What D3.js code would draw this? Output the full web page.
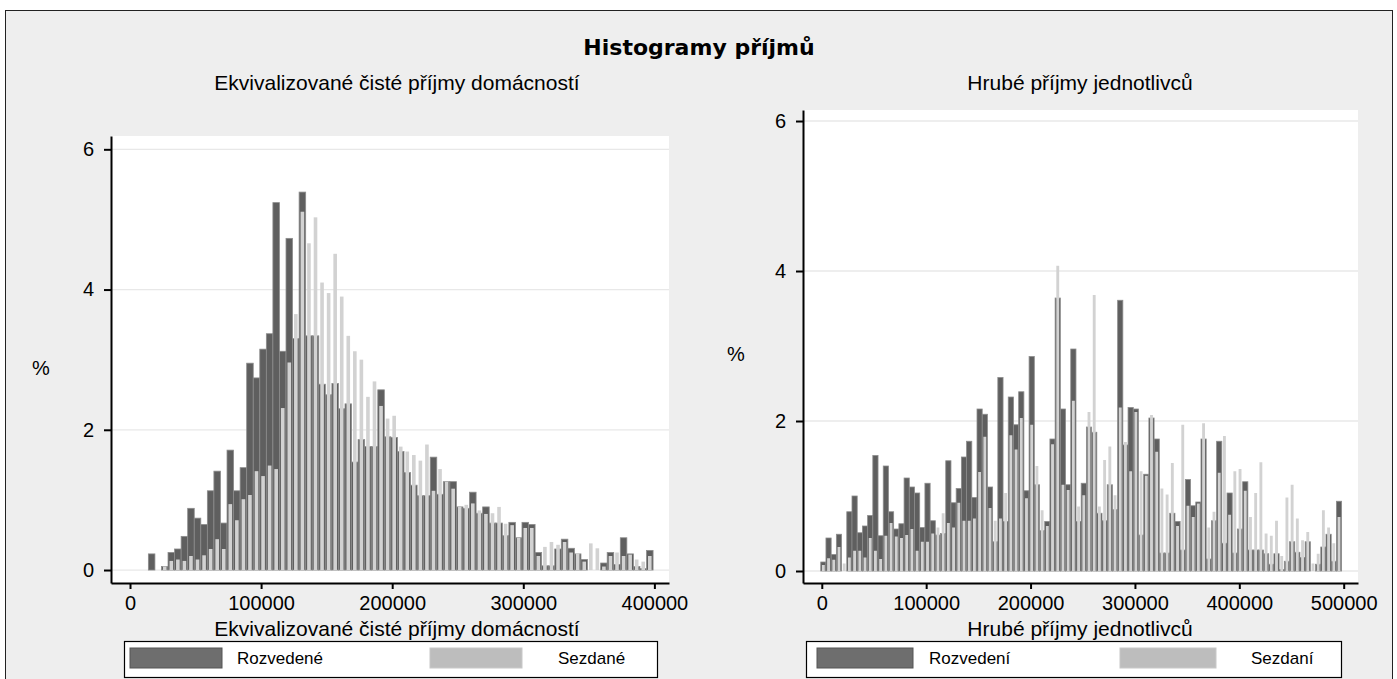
<!DOCTYPE html>
<html><head><meta charset="utf-8">
<script src="https://cdn.jsdelivr.net/npm/d3@7"></script>
<style>
body{margin:0;background:#fff}
svg{display:block}
text{font-family:"Liberation Sans",Arial,sans-serif;fill:#000}
</style>
</head><body>
<svg id="chart" width="1397" height="679"></svg>
<script>
// ---------------- data ----------------
const chartTitle = "Histogramy příjmů";
const yTicks = [0, 2, 4, 6];
const yLabel = "%";

const leftTitle = "Ekvivalizované čisté příjmy domácností";
const leftXTicks = [0, 100000, 200000, 300000, 400000];
const leftBinStart = 14000;
const leftBinWidth = 5000;
const leftRozvedene = [0.23,0,0.05,0.25,0.30,0.48,0.88,0.74,0.65,1.13,1.41,0.67,1.71,1.13,1.46,2.95,2.74,3.15,3.37,5.24,3.12,4.73,3.3,5.39,3.34,3.34,2.65,2.5,2.66,2.3,2.37,1.54,1.86,1.76,1.76,2.57,1.9,1.89,1.69,1.39,1.21,1.06,1.06,1.61,1.08,1.26,1.26,0.90,0.88,1.11,0.81,0.90,0.67,0.67,0.49,0.68,0.46,0.68,0.65,0.25,0.06,0.06,0.3,0.44,0.31,0.23,0.15,0,0,0.10,0.25,0.08,0.46,0.23,0.05,0.02,0.28];
const leftSezdane = [0,0,0.05,0.13,0.15,0.13,0.20,0.15,0.21,0.30,0.44,0.30,0.94,0.71,1.01,1.07,1.41,1.34,1.49,1.44,2.31,2.96,3.65,5.11,4.66,5.03,4.10,3.95,4.51,3.90,3.34,3.12,3.00,2.47,2.69,2.34,2.16,2.20,1.76,1.69,1.64,1.56,1.79,1.13,1.44,1.26,1.16,0.90,0.93,0.95,0.85,0.8,0.81,0.90,0.66,0.64,0.46,0.6,0.6,0.2,0.33,0.40,0.36,0.4,0.25,0.24,0.12,0.38,0.31,0.05,0.2,0.25,0.2,0.22,0.15,0.12,0.2];
const leftLegend = ["Rozvedené", "Sezdané"];

const rightTitle = "Hrubé příjmy jednotlivců";
const rightXTicks = [0, 100000, 200000, 300000, 400000, 500000];
const rightBinStart = -1000;
const rightBinWidth = 4990;
const rightRozvedeni = [0.12,0.44,0.22,0.49,0,0.79,1.00,0.51,0.60,0.74,1.54,0.47,1.40,0.79,0.56,0.63,1.24,1.12,1.04,0.58,1.17,0.67,0.48,0.5,1.47,0.91,1.10,1.52,1.73,0.98,2.16,2.09,1.12,0.39,2.58,0.66,2.32,1.95,2.39,1.07,2.86,1.15,0.54,0.66,1.76,3.64,2.16,1.15,2.96,0.66,1.17,1.92,1.85,0.77,0.67,1.15,0.82,3.61,1.68,2.18,2.16,0.48,1.29,2.04,1.76,0.24,0.24,0.77,0.66,0.28,1.22,0.87,0.92,1.76,0.16,0.67,1.73,0.37,1.04,0.24,0.56,1.19,0.28,0.28,0.28,0.23,0.09,0.23,0.02,0.13,0.39,0.25,0.18,0.39,0,0.09,0.32,0.49,0.13,0.93];
const rightSezdani = [0.08,0.17,0.15,0.32,0.10,0.18,0.27,0.27,0.18,0.44,0.27,0.16,0.47,0.64,0.46,0.44,0.48,0.56,0.27,0.39,0.39,0.5,0.58,0.77,0.64,0.58,0.91,0.67,0.67,0.70,1.32,1.79,0.84,0.67,0.70,1.04,1.81,1.62,2.04,0.97,1.95,1.40,0.81,0.6,1.69,4.07,1.15,1.08,2.27,0.86,1.01,2.12,3.68,0.86,1.48,1.66,1.01,2.18,1.72,1.33,2.12,1.33,1.27,2.08,1.59,1.10,1.02,1.44,0.6,1.95,0.87,0.72,0.9,1.97,0.58,0.79,1.31,1.80,0.75,1.33,1.36,1.07,0.72,1.04,1.45,0.5,0.47,0.67,0.2,0.98,1.15,0.70,0.41,0.52,0.1,0.23,0.81,0.58,0.37,0.72];
const rightLegend = ["Rozvedení", "Sezdaní"];

// ---------------- drawing ----------------
const svg = d3.select("#chart");
const DARK = "#5f5f5f", DARK_EDGE = "#8c8c8c", LIGHT = "#d2d2d2";

svg.append("rect").attr("x", 5.5).attr("y", 10.5).attr("width", 1387).attr("height", 700)
  .attr("fill", "#eeeeee").attr("stroke", "#222").attr("stroke-width", 1);

svg.append("text").attr("x", 699).attr("y", 55).attr("text-anchor", "middle")
  .style("font-family", "'DejaVu Sans',sans-serif").style("font-weight", "bold").style("font-size", "22px")
  .text(chartTitle);

function drawPanel(p) {
  const x = d3.scaleLinear().domain(p.xDomain).range([p.left, p.right]);
  const y = d3.scaleLinear().domain(p.yDomain).range([p.bottom, p.top]);
  const g = svg.append("g");

  g.append("text").attr("x", p.cx).attr("y", 90).attr("text-anchor", "middle")
    .style("font-size", "21px").text(p.title);

  g.append("rect").attr("x", p.left).attr("y", p.top)
    .attr("width", p.right - p.left).attr("height", p.bottom - p.top).attr("fill", "#fff");

  g.append("g").selectAll("line").data(yTicks).join("line")
    .attr("x1", p.left).attr("x2", p.right)
    .attr("y1", d => y(d)).attr("y2", d => y(d))
    .attr("stroke", "#e8e8e8").attr("stroke-width", 1.3);

  const bins = p.dark.map((v, i) => ({
    x0: p.binStart + i * p.binWidth,
    x1: p.binStart + (i + 1) * p.binWidth,
    d: v, l: p.light[i]
  }));

  g.append("g").selectAll("rect").data(bins.filter(b => b.d > 0)).join("rect")
    .attr("x", b => x(b.x0)).attr("width", b => x(b.x1) - x(b.x0))
    .attr("y", b => y(b.d)).attr("height", b => y(0) - y(b.d))
    .attr("fill", DARK).attr("stroke", DARK_EDGE).attr("stroke-width", 0.8);

  const lw = 0.55;
  g.append("g").selectAll("rect").data(bins.filter(b => b.l > 0)).join("rect")
    .attr("x", b => x(b.x0 + (1 - lw) / 2 * p.binWidth))
    .attr("width", b => x(b.x0 + lw * p.binWidth) - x(b.x0))
    .attr("y", b => y(b.l)).attr("height", b => y(0) - y(b.l))
    .attr("fill", LIGHT);

  const ya = g.append("g").attr("transform", `translate(${p.left},0)`)
    .call(d3.axisLeft(y).tickValues(yTicks).tickSize(7).tickSizeOuter(0).tickPadding(10).tickFormat(d3.format("d")));
  const xa = g.append("g").attr("transform", `translate(0,${p.bottom})`)
    .call(d3.axisBottom(x).tickValues(p.xTicks).tickSize(6).tickSizeOuter(0).tickPadding(7).tickFormat(d3.format("d")));
  [ya, xa].forEach(a => {
    a.select(".domain").attr("stroke", "#000").attr("stroke-width", 2);
    a.selectAll(".tick line").attr("stroke", "#000").attr("stroke-width", 2);
    a.selectAll(".tick text").style("font-size", "20px").style("font-family", "'Liberation Sans',Arial,sans-serif").attr("fill", "#000");
  });

  g.append("text").attr("x", p.pctX).attr("y", p.pctY).attr("text-anchor", "middle")
    .attr("dominant-baseline", "middle").style("font-size", "20px").text(yLabel);

  g.append("text").attr("x", p.cx).attr("y", 636).attr("text-anchor", "middle")
    .style("font-size", "21px").text(p.title);

  // legend
  const L = p.legend;
  g.append("rect").attr("x", L.x0 + 0.5).attr("y", 641.5).attr("width", L.x1 - L.x0).attr("height", 36)
    .attr("fill", "#fff").attr("stroke", "#000").attr("stroke-width", 1.2);
  const items = [
    {label: p.labels[0], fill: "#6e6e6e", stroke: "#555", sx: L.s1, tx: L.t1},
    {label: p.labels[1], fill: "#bdbdbd", stroke: "#c8c8c8", sx: L.s2, tx: L.t2}
  ];
  items.forEach(it => {
    g.append("rect").attr("x", it.sx).attr("y", 648).attr("width", L.sw).attr("height", 20)
      .attr("fill", it.fill).attr("stroke", it.stroke).attr("stroke-width", 1);
    g.append("text").attr("x", it.tx).attr("y", 664).style("font-size", "17px").text(it.label);
  });
}

drawPanel({
  title: leftTitle, cx: 397,
  left: 111, right: 669, top: 136, bottom: 583,
  xDomain: [-14500, 411150], yDomain: [-0.185, 6.19],
  xTicks: leftXTicks, binStart: leftBinStart, binWidth: leftBinWidth,
  dark: leftRozvedene, light: leftSezdane,
  pctX: 41, pctY: 370,
  labels: leftLegend,
  legend: {x0: 124, x1: 657, s1: 130, s2: 430, sw: 92, t1: 237, t2: 558}
});

drawPanel({
  title: rightTitle, cx: 1080,
  left: 803, right: 1358, top: 110, bottom: 583,
  xDomain: [-18000, 513700], yDomain: [-0.16, 6.147],
  xTicks: rightXTicks, binStart: rightBinStart, binWidth: rightBinWidth,
  dark: rightRozvedeni, light: rightSezdani,
  pctX: 736, pctY: 356,
  labels: rightLegend,
  legend: {x0: 806, x1: 1341, s1: 817, s2: 1120, sw: 96, t1: 929, t2: 1251}
});
</script>
</body></html>
